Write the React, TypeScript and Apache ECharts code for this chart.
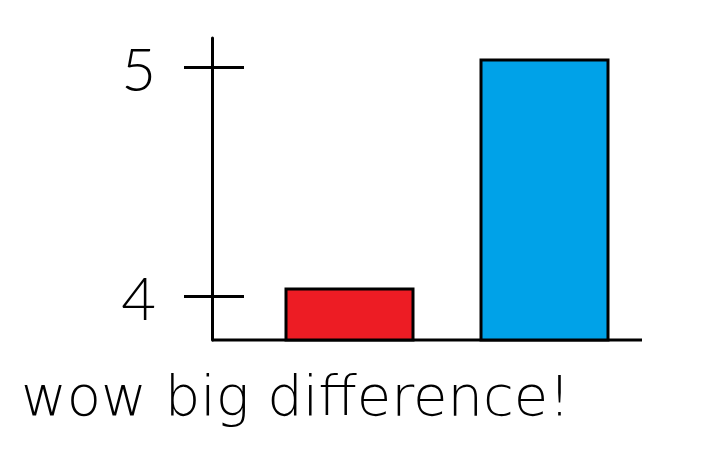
import React, { useEffect, useRef } from 'react';
import * as echarts from 'echarts';

// values
const categories = ['before', 'after'];
const values = [4.04, 5.04];
const barColors = ['#ED1C24', '#00A2E8'];
const tickValues = [4, 5];
const caption = 'wow big difference!';

const Y_MIN = 3.81;
const Y_MAX = 5.13;

const App: React.FC = () => {
  const chartRef = useRef<HTMLDivElement>(null);

  useEffect(() => {
    if (!chartRef.current) return;
    const chart = echarts.init(chartRef.current, undefined, { renderer: 'svg' });

    // hand-drawn look: thin black strokes
    const ink = '#000';
    const font = 'Lato';

    const yAxisBase = {
      type: 'value' as const,
      position: 'left' as const,
      offset: 40,
      min: Y_MIN,
      max: Y_MAX,
      splitLine: { show: false }
    };

    const option: echarts.EChartsOption = {
      animation: false,
      backgroundColor: '#fff',
      title: {
        text: caption,
        left: 8,
        top: 354,
        textStyle: {
          fontFamily: 'DejaVu Sans',
          fontWeight: 200,
          fontSize: 56,
          color: ink
        }
      },
      grid: { left: 244, right: 67, top: 30, bottom: 124 },
      xAxis: {
        type: 'category',
        data: categories,
        axisLine: { show: false },
        axisTick: { show: false },
        axisLabel: { show: false }
      },
      yAxis: [
        {
          ...yAxisBase,
          axisLine: { show: true, lineStyle: { color: ink, width: 3 } },
          axisTick: {
            show: true,
            length: 28,
            customValues: tickValues,
            lineStyle: { color: ink, width: 3 }
          },
          axisLabel: {
            show: true,
            margin: 56,
            customValues: tickValues,
            fontFamily: font,
            fontWeight: 300,
            fontSize: 60,
            color: ink
          }
        },
        {
          ...yAxisBase,
          axisLine: { show: false },
          axisTick: {
            show: true,
            inside: true,
            length: 32,
            customValues: tickValues,
            lineStyle: { color: ink, width: 3 }
          },
          axisLabel: { show: false }
        }
      ],
      series: [
        {
          type: 'bar',
          barWidth: 130,
          data: values.map((v, i) => ({
            value: v,
            itemStyle: { color: barColors[i], borderColor: ink, borderWidth: 3 }
          }))
        }
      ]
    };

    chart.setOption(option);

    // baseline from the drawn y axis to the right end of the plot
    const yBottom = chart.convertToPixel({ yAxisIndex: 0 }, Y_MIN) as number;
    chart.setOption({
      graphic: [
        {
          type: 'line',
          shape: { x1: 204, y1: yBottom, x2: 634, y2: yBottom },
          style: { stroke: ink, lineWidth: 3 }
        }
      ]
    });

    return () => {
      chart.dispose();
    };
  }, []);

  return <div ref={chartRef} style={{ width: 701, height: 456 }} />;
};

export default App;
